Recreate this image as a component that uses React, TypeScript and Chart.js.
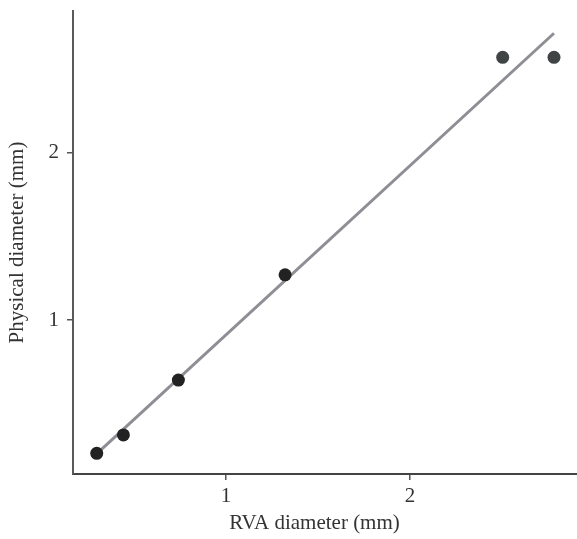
import React, { useEffect, useRef } from "react";
import { Chart, registerables } from "chart.js";

Chart.register(...registerables);

const rvaDiameter = [0.297, 0.442, 0.741, 1.321, 2.504, 2.783];
const physicalDiameter = [0.203, 0.313, 0.641, 1.27, 2.57, 2.57];
const fitX = [0.299, 2.783];
const fitY = [0.203, 2.714];
const tickValues = [1, 2];
const pointColors = ["#222222", "#222222", "#222222", "#222222", "#404445", "#404445"];

export default function App() {
  const ref = useRef<HTMLCanvasElement | null>(null);
  useEffect(() => {
    if (!ref.current) return;
    const fontFamily = "'Liberation Serif', 'DejaVu Serif', serif";
    const chart = new Chart(ref.current, {
      type: "scatter",
      data: {
        datasets: [
          {
            type: "line",
            data: fitX.map((x, i) => ({ x, y: fitY[i] })),
            borderColor: "#8e8e94",
            borderWidth: 3,
            pointRadius: 0,
            fill: false,
            order: 2,
          },
          {
            data: rvaDiameter.map((x, i) => ({ x, y: physicalDiameter[i] })),
            backgroundColor: pointColors,
            borderColor: pointColors,
            pointRadius: 6.5,
            borderWidth: 0,
            order: 1,
          },
        ],
      },
      options: {
        animation: false,
        responsive: false,
        layout: { autoPadding: false, padding: { top: 11, right: 0, left: 0, bottom: 0 } },
        plugins: { legend: { display: false }, tooltip: { enabled: false } },
        scales: {
          x: {
            type: "linear",
            min: 0.168,
            max: 2.908,
            afterBuildTicks: (s: any) => {
              s.ticks = tickValues.map((v) => ({ value: v }));
            },
            afterFit: (s: any) => {
              s.height = 65;
              s.paddingLeft = 0;
              s.paddingRight = 0;
            },
            grid: {
              display: true,
              drawOnChartArea: false,
              drawTicks: true,
              tickLength: 6,
              color: "#555",
              lineWidth: 1.5,
            },
            border: { display: true, color: "#444", width: 2 },
            ticks: {
              color: "#333",
              padding: 4,
              font: { family: fontFamily, size: 21 },
              callback: (v: any) => String(v),
            },
            title: {
              display: true,
              text: "RVA diameter (mm)    ",
              color: "#333",
              font: { family: fontFamily, size: 21 },
              padding: { top: 0, bottom: 3 },
            },
          },
          y: {
            type: "linear",
            min: 0.0795,
            max: 2.847,
            afterBuildTicks: (s: any) => {
              s.ticks = tickValues.map((v) => ({ value: v }));
            },
            afterFit: (s: any) => {
              s.width = 73;
              s.paddingTop = 0;
              s.paddingBottom = 0;
            },
            grid: {
              display: true,
              drawOnChartArea: false,
              drawTicks: true,
              tickLength: 6,
              color: "#555",
              lineWidth: 1.5,
            },
            border: { display: true, color: "#5a5a5a", width: 2 },
            ticks: {
              color: "#333",
              padding: 8,
              font: { family: fontFamily, size: 21 },
              callback: (v: any) => String(v),
            },
            title: {
              display: true,
              text: "Physical diameter (mm)",
              color: "#333",
              font: { family: fontFamily, size: 21 },
              padding: { top: 5, bottom: 0 },
            },
          },
        },
      },
    });
    return () => chart.destroy();
  }, []);
  return (
    <div style={{ position: "fixed", left: 0, top: 0, width: 577, height: 539, background: "#fff" }}>
      <canvas ref={ref} width={577} height={539} style={{ display: "block" }} />
    </div>
  );
}
